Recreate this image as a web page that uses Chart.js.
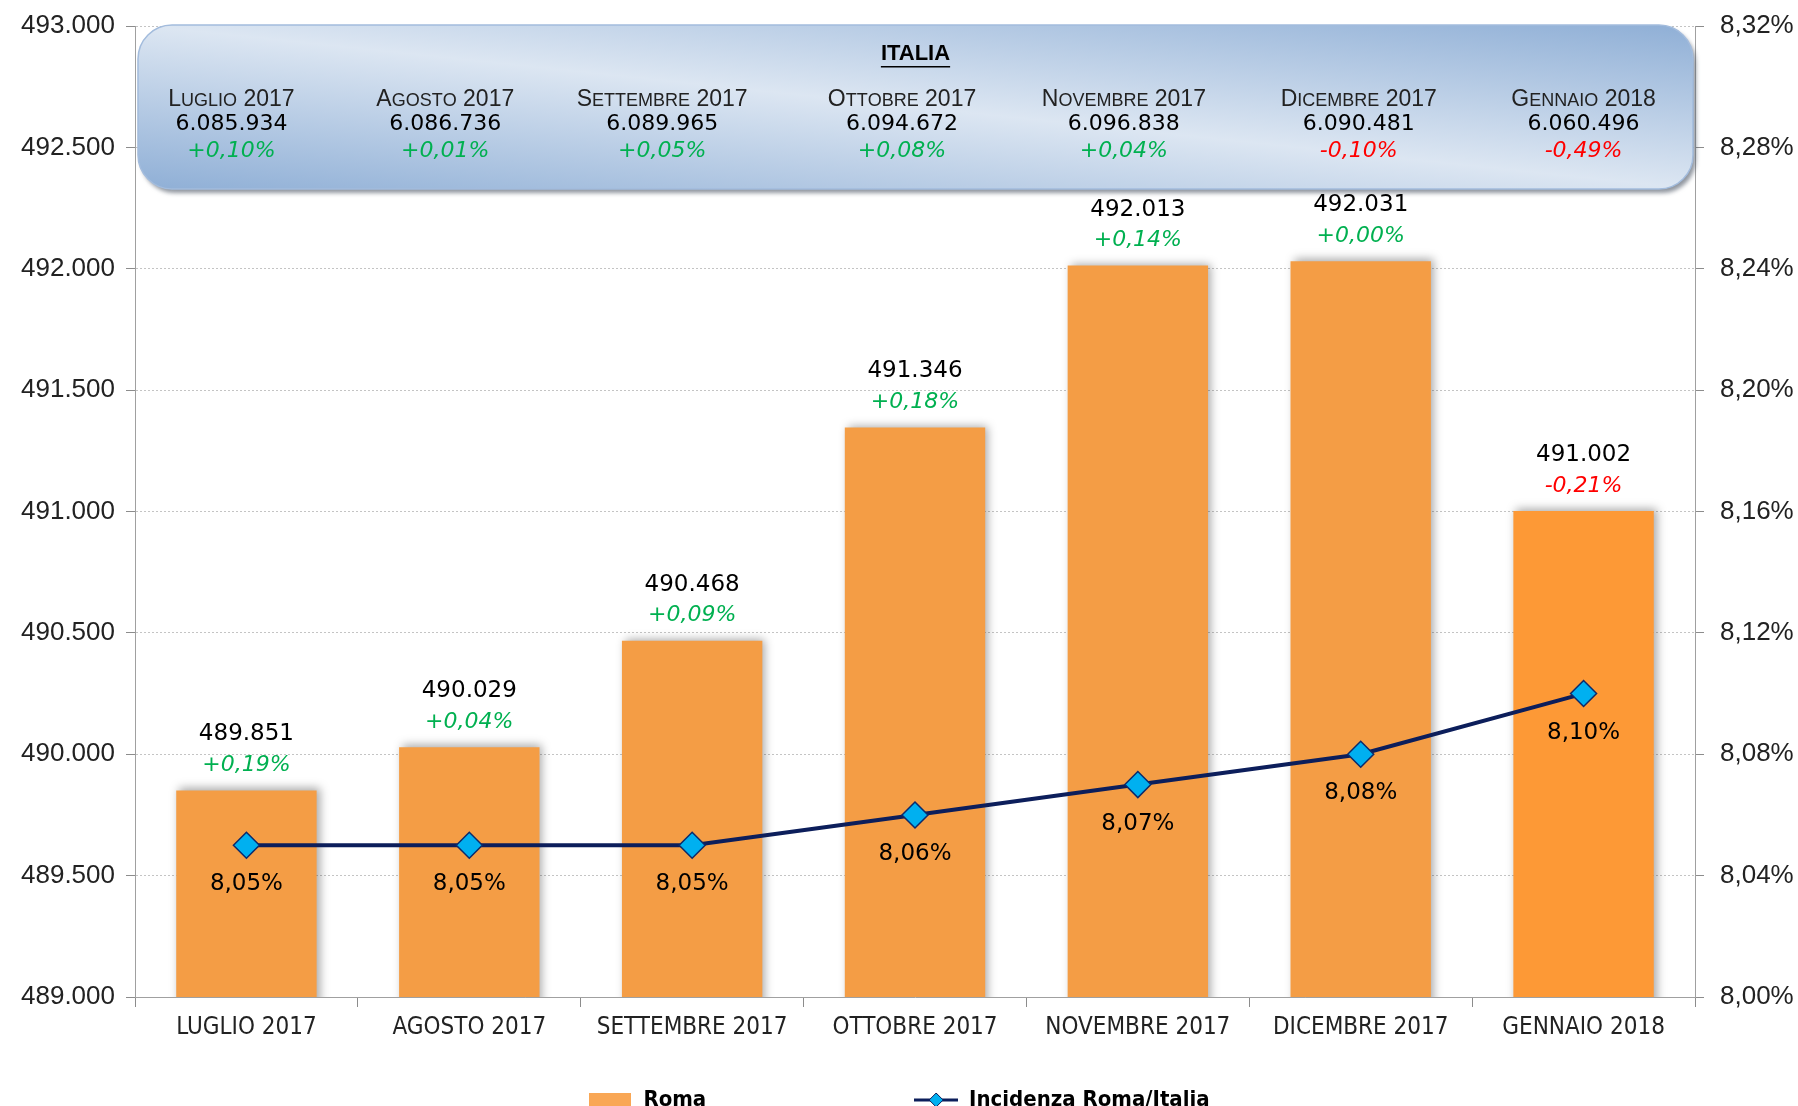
<!DOCTYPE html>
<html lang="it">
<head>
<meta charset="utf-8">
<title>Roma / Italia</title>
<script src="https://cdn.jsdelivr.net/npm/chart.js@4.4.1/dist/chart.umd.min.js"></script>
<style>
  html, body { margin: 0; padding: 0; background: #fff; }
</style>
</head>
<body>
<canvas id="grafico" width="1798" height="1106"></canvas>
<script>
// dati
const mesi = ['LUGLIO 2017', 'AGOSTO 2017', 'SETTEMBRE 2017', 'OTTOBRE 2017', 'NOVEMBRE 2017', 'DICEMBRE 2017', 'GENNAIO 2018'];
const mesiBanner = ['Luglio 2017', 'Agosto 2017', 'Settembre 2017', 'Ottobre 2017', 'Novembre 2017', 'Dicembre 2017', 'Gennaio 2018'];
const roma = [489851, 490029, 490468, 491346, 492013, 492031, 491002];
const romaVar = [0.19, 0.04, 0.09, 0.18, 0.14, 0.00, -0.21];
const italia = [6085934, 6086736, 6089965, 6094672, 6096838, 6090481, 6060496];
const italiaVar = [0.10, 0.01, 0.05, 0.08, 0.04, -0.10, -0.49];
const incidenza = [8.05, 8.05, 8.05, 8.06, 8.07, 8.08, 8.10];
const tickSinistra = [489000, 489500, 490000, 490500, 491000, 491500, 492000, 492500, 493000];
const tickDestra = [8.00, 8.04, 8.08, 8.12, 8.16, 8.20, 8.24, 8.28, 8.32];

const NARROW = '"Liberation Sans Narrow", "DejaVu Sans Condensed", sans-serif';
const SANS = '"Liberation Sans", Arial, sans-serif';
const DEJAVU = '"DejaVu Sans", Verdana, sans-serif';

function formatoMigliaia(n) {
  return String(n).replace(/\B(?=(\d{3})+(?!\d))/g, '.');
}
function formatoVar(v) {
  return (v < 0 ? '-' : '+') + Math.abs(v).toFixed(2).replace('.', ',') + '%';
}
function coloreVar(v) {
  return v < 0 ? '#ff0000' : '#00b050';
}
function formatoPerc(v) {
  return v.toFixed(2).replace('.', ',') + '%';
}

// scritta in maiuscoletto (small caps) centrata su cx
function maiuscoletto(c, testo, cx, y, grande, piccolo, famiglia) {
  const pezzi = [];
  for (const ch of testo) {
    const minuscola = ch !== ch.toUpperCase();
    pezzi.push({ t: ch.toUpperCase(), size: minuscola ? piccolo : grande });
  }
  let w = 0;
  pezzi.forEach(p => {
    c.font = p.size + 'px ' + famiglia;
    p.w = c.measureText(p.t).width;
    w += p.w;
  });
  let x = cx - w / 2;
  c.textAlign = 'left';
  c.textBaseline = 'alphabetic';
  pezzi.forEach(p => {
    c.font = p.size + 'px ' + famiglia;
    c.fillText(p.t, x, y);
    x += p.w;
  });
}

// riquadro ITALIA in alto
const spostamentoColonne = [-15, -24, -30, -13, -14, -2, 0];
const banner = {
  id: 'banner',
  beforeDatasetsDraw(chart) {
    const c = chart.ctx;
    const area = chart.chartArea;
    const x0 = area.left + 3, x1 = area.right - 2;
    const y0 = area.top - 1, y1 = area.top + 163;
    const w = x1 - x0, h = y1 - y0;
    const r = 34;

    c.save();
    c.beginPath();
    c.roundRect(x0, y0, w, h, r);
    const D = Math.sqrt(w * w + h * h);
    const L = w * h / D;
    const cx = x0 + w / 2, cy = y0 + h / 2;
    const g = c.createLinearGradient(cx - h * L / D, cy + w * L / D, cx + h * L / D, cy - w * L / D);
    g.addColorStop(0, '#8fafd6');
    g.addColorStop(0.5, '#dce6f2');
    g.addColorStop(1, '#8fafd6');
    c.shadowColor = 'rgba(70,80,95,0.6)';
    c.shadowBlur = 4;
    c.shadowOffsetX = 3;
    c.shadowOffsetY = 4;
    c.fillStyle = g;
    c.fill();
    c.shadowColor = 'transparent';
    c.lineWidth = 1.5;
    c.strokeStyle = '#a3bcdd';
    c.stroke();

    // titolo
    c.fillStyle = '#000';
    c.font = 'bold 22px ' + SANS;
    c.textAlign = 'center';
    c.textBaseline = 'middle';
    const tx = (x0 + x1) / 2;
    c.fillText('ITALIA', tx, area.top + 28);
    const tw = c.measureText('ITALIA').width;
    c.fillRect(tx - tw / 2, area.top + 40, tw, 1.5);

    const sx = chart.scales.x;
    mesiBanner.forEach((m, i) => {
      const px = sx.getPixelForValue(i) + spostamentoColonne[i];
      c.fillStyle = '#222';
      maiuscoletto(c, m, px, area.top + 80, 23, 18, SANS);
      c.textAlign = 'center';
      c.textBaseline = 'middle';
      c.fillStyle = '#000';
      c.font = '22px ' + DEJAVU;
      c.fillText(formatoMigliaia(italia[i]), px, area.top + 98);
      c.fillStyle = coloreVar(italiaVar[i]);
      c.font = 'italic 22px ' + DEJAVU;
      c.fillText(formatoVar(italiaVar[i]), px, area.top + 125);
    });
    c.restore();
  }
};

// ombra sulle barre
const ombraBarre = {
  id: 'ombraBarre',
  beforeDatasetDraw(chart, args) {
    if (args.index !== 0) return;
    const c = chart.ctx;
    c.save();
    c.shadowColor = 'rgba(0,0,0,0.35)';
    c.shadowBlur = 9;
    c.shadowOffsetX = 3;
    c.shadowOffsetY = -2;
  },
  afterDatasetDraw(chart, args) {
    if (args.index !== 0) return;
    chart.ctx.restore();
  }
};

// etichette sopra le barre e sotto i punti
const etichette = {
  id: 'etichette',
  afterDatasetsDraw(chart) {
    const c = chart.ctx;
    const barre = chart.getDatasetMeta(0).data;
    const punti = chart.getDatasetMeta(1).data;
    c.save();
    c.textAlign = 'center';
    c.textBaseline = 'middle';
    barre.forEach((b, i) => {
      c.font = '23px ' + DEJAVU;
      c.fillStyle = '#000';
      c.fillText(formatoMigliaia(roma[i]), b.x, b.y - 56);
      c.font = 'italic 22px ' + DEJAVU;
      c.fillStyle = coloreVar(romaVar[i]);
      c.fillText(formatoVar(romaVar[i]), b.x, b.y - 25);
    });
    punti.forEach((p, i) => {
      c.font = '23px ' + DEJAVU;
      c.fillStyle = '#000';
      c.fillText(formatoPerc(incidenza[i]), p.x, p.y + 39);
    });
    c.restore();
  }
};

// icone della legenda
function iconaRoma() {
  const cv = document.createElement('canvas');
  cv.width = 42; cv.height = 15;
  const g = cv.getContext('2d');
  g.fillStyle = '#f9a755';
  g.fillRect(0, 0, 42, 15);
  return cv;
}
function iconaLinea() {
  const cv = document.createElement('canvas');
  cv.width = 44; cv.height = 18;
  const g = cv.getContext('2d');
  g.strokeStyle = '#0c1e5b';
  g.lineWidth = 3;
  g.beginPath(); g.moveTo(0, 9); g.lineTo(44, 9); g.stroke();
  g.beginPath();
  g.moveTo(22, 2); g.lineTo(29, 9); g.lineTo(22, 16); g.lineTo(15, 9); g.closePath();
  g.fillStyle = '#00b0f0'; g.fill();
  g.lineWidth = 1; g.stroke();
  return cv;
}

// niente spazio extra sopra/sotto gli assi verticali
function senzaPadding(s, larghezza) {
  s.width = larghezza;
  s.paddingTop = 0;
  s.paddingBottom = 0;
}

const coloriBarre = roma.map((v, i) => i === roma.length - 1 ? '#fd9936' : '#f49d45');

const ctx = document.getElementById('grafico');

const grafico = new Chart(ctx, {
  type: 'bar',
  data: {
    labels: mesi,
    datasets: [{
      type: 'bar',
      label: 'Roma',
      data: roma,
      backgroundColor: coloriBarre,
      borderWidth: 0,
      barPercentage: 0.63,
      categoryPercentage: 1,
      yAxisID: 'y',
      order: 1
    }, {
      type: 'line',
      label: 'Incidenza Roma/Italia',
      data: incidenza,
      borderColor: '#0c1e5b',
      borderWidth: 4,
      tension: 0,
      pointStyle: 'rectRot',
      pointRadius: 13,
      pointBackgroundColor: '#00b0f0',
      pointBorderColor: '#0c2a6b',
      pointBorderWidth: 1.5,
      yAxisID: 'y1',
      order: 0
    }]
  },
  options: {
    responsive: false,
    animation: false,
    layout: { padding: { top: 26, left: 0, right: 0, bottom: -15 } },
    plugins: {
      tooltip: { enabled: false },
      legend: {
        position: 'bottom',
        labels: {
          usePointStyle: true,
          pointStyleWidth: 44,
          padding: 0,
          color: '#000',
          font: { family: NARROW, size: 22, weight: 'bold' },
          generateLabels: () => [
            { text: 'Roma' + '\u2003'.repeat(10) + '\u2002', pointStyle: iconaRoma(), fillStyle: '#f9a755', strokeStyle: 'transparent', lineWidth: 0, hidden: false, datasetIndex: 0 },
            { text: 'Incidenza Roma/Italia', pointStyle: iconaLinea(), fillStyle: '#00b0f0', strokeStyle: 'transparent', lineWidth: 0, hidden: false, datasetIndex: 1 }
          ]
        }
      }
    },
    scales: {
      x: {
        afterFit: (s) => { s.height = 92; },
        grid: { offset: true, drawOnChartArea: false, tickLength: 10, color: '#8c8c8c' },
        border: { color: '#a0a0a0' },
        ticks: {
          color: '#222',
          padding: 6,
          maxRotation: 0,
          autoSkip: false,
          font: { family: NARROW, size: 24 }
        }
      },
      y: {
        position: 'left',
        min: 489000,
        max: 493000,
        afterBuildTicks: (s) => { s.ticks = tickSinistra.map(v => ({ value: v })); },
        afterFit: (s) => senzaPadding(s, 135),
        grid: {
          color: '#c4c4c4',
          tickColor: '#8c8c8c',
          tickBorderDash: [],
          tickLength: 9
        },
        border: { color: '#a0a0a0', dash: [2, 2] },
        ticks: {
          color: '#222',
          padding: 11,
          font: { family: SANS, size: 26 },
          callback: (v) => formatoMigliaia(v)
        }
      },
      y1: {
        position: 'right',
        min: 8.00,
        max: 8.32,
        afterBuildTicks: (s) => { s.ticks = tickDestra.map(v => ({ value: v })); },
        afterFit: (s) => senzaPadding(s, 103),
        grid: { drawOnChartArea: false, tickLength: 9, color: '#8c8c8c' },
        border: { color: '#a0a0a0' },
        ticks: {
          color: '#222',
          padding: 16,
          font: { family: SANS, size: 26 },
          callback: (v) => formatoPerc(v)
        }
      }
    }
  },
  plugins: [banner, ombraBarre, etichette]
});
</script>
</body>
</html>
